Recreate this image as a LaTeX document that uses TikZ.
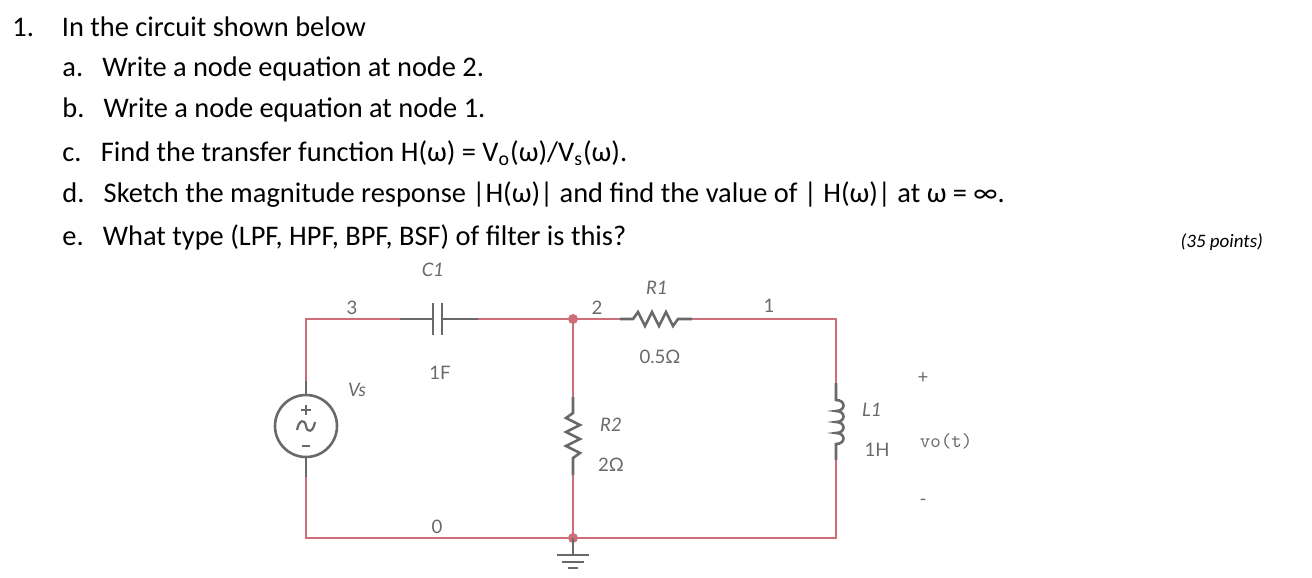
\documentclass[tikz,border=0pt]{standalone}
\usepackage{fontspec}
\setmainfont{Carlito}
\newfontfamily\lab{Lato}
\definecolor{wire}{RGB}{205,110,122}
\definecolor{comp}{RGB}{105,105,105}
\tikzset{
 w/.style={draw=wire,line width=1.3pt},
 c/.style={draw=comp,line width=1.3pt},
 q/.style={font=\lab\fontsize{9.3}{10}\selectfont,text=comp},
 qi/.style={font=\lab\itshape\fontsize{9.3}{10}\selectfont,text=comp},
 hd/.style={font=\fontsize{14.2}{17}\selectfont,anchor=west,inner sep=0pt}
}
\begin{document}
\begin{tikzpicture}[x=0.5pt,y=-0.5pt]
\useasboundingbox (0,0) rectangle (1312,578);
% header
\node[hd] (t1) at (12,27) {1.\hspace{14pt}In the circuit shown below};
\node[hd] (ta) at (62,69) {a.\ \ \ Write a node equation at node 2.};
\node[hd] (tb) at (62,110) {b.\ \ \ Write a node equation at node 1.};
\node[hd] (tc) at (62,153) {c.\ \ \ Find the transfer function H(ω) = V\textsubscript{o}(ω)/V\textsubscript{s}(ω).};
\node[hd] (td) at (62,195) {d.\ \ \ Sketch the magnitude response |H(ω)| and find the value of | H(ω)| at ω = ∞.};
\node[hd] (te) at (62,237) {e.\ \ \ What type (LPF, HPF, BPF, BSF) of filter is this?};
\node[font=\itshape\fontsize{9.5}{11}\selectfont,anchor=east] (pts) at (1270,242) {(35 points)};
% coordinates
\coordinate (tl) at (306,319);
\coordinate (bl) at (306,538);
\coordinate (n2) at (573,319);
\coordinate (g) at (573,538);
\coordinate (tr) at (836,319);
\coordinate (br) at (836,538);
% source
\node[circle,draw=comp,line width=1.3pt,minimum size=31pt,inner sep=0pt] (vs) at (306,426) {};
\draw[w] (306,381) -- (tl) -- (400,319);
\draw[c] (vs.north) -- (306,381);
\draw[c] (vs.south) -- (306,477);
\draw[w] (306,477) -- (bl) -- (g) -- (br) -- (836,460);
\draw[c,line width=1.1pt] (301,410) -- (311,410) (306,405) -- (306,415);
\draw[c,line width=1.1pt] (302,446) -- (310,446);
\draw[c,line width=1.1pt] (297,430) .. controls (299,419) and (305,419) .. (306,426) .. controls (307,433) and (313,433) .. (315,422);
% capacitor
\draw[c] (400,319) -- (433,319) (442,319) -- (478,319);
\draw[c] (433,303) -- (433,335) (442,303) -- (442,335);
\draw[w] (478,319) -- (n2) -- (620,319);
% R1
\draw[c] (620,319) -- (633,319) -- (638,312) -- (645,326) -- (652,312) -- (659,326) -- (666,312) -- (673,326) -- (678,319) -- (692,319);
\draw[w] (692,319) -- (tr) -- (836,383);
% R2
\draw[w] (n2) -- (573,397);
\draw[c] (573,397) -- (573,413) -- (566,418) -- (580,425) -- (566,432) -- (580,439) -- (566,446) -- (580,453) -- (573,458) -- (573,475);
\draw[w] (573,475) -- (g);
% inductor
\draw[c] (836,383) -- (836,400)
  .. controls (846,400) and (846,411) .. (836,411)
  .. controls (846,411) and (846,422) .. (836,422)
  .. controls (846,422) and (846,433) .. (836,433)
  .. controls (846,433) and (846,444) .. (836,444) -- (836,460);
% dots
\fill[wire] (n2) circle (5);
\fill[wire] (g) circle (5);
% ground
\draw[c] (g) -- (573,555);
\draw[c] (557,555) -- (589,555) (562,562) -- (584,562) (568,568) -- (578,568);
% labels
\node[q] (l3) at (352,308) {3};
\node[qi] (lc1) at (433,270) {C1};
\node[q] (l2) at (597,308) {2};
\node[qi] (lr1) at (657,288) {R1};
\node[q] (l1) at (769,306) {1};
\node[q] (lr1v) at (660,357) {0.5Ω};
\node[q] (lcv) at (440,373) {1F};
\node[qi] (lvs) at (357,390) {Vs};
\node[qi] (lr2) at (611,425) {R2};
\node[q] (lr2v) at (611,465) {2Ω};
\node[q] (l0) at (437,527) {0};
\node[qi] (ll1) at (872,410) {L1};
\node[q] (ll1v) at (877,450) {1H};
\node[q] (lp) at (923,378) {+};
\node[font=\ttfamily\fontsize{10}{10}\selectfont,text=comp] (lvo) at (946,441) {vo(t)};
\node[q] (lm) at (923,502) {-};
\end{tikzpicture}
\end{document}
